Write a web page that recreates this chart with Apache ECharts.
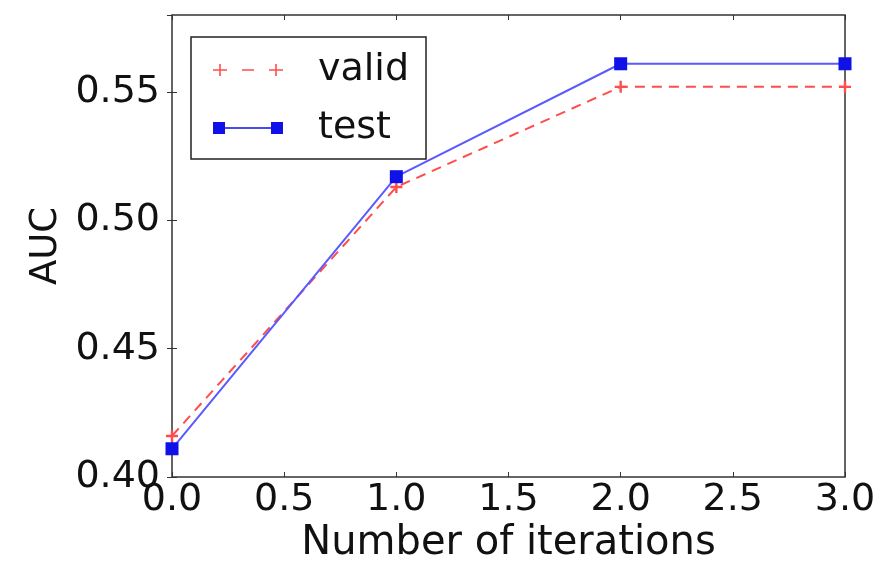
<!DOCTYPE html>
<html>
<head>
<meta charset="utf-8">
<script src="https://cdn.jsdelivr.net/npm/echarts@6/dist/echarts.min.js"></script>
<style>
  html, body { margin: 0; padding: 0; background: #fff; }
  #chart { width: 881px; height: 564px; }
</style>
</head>
<body>
<div id="chart"></div>
<script>
// iterations on the x axis
var iterations = [0, 1, 2, 3];
// AUC values
var validAuc = [0.416, 0.513, 0.552, 0.552];
var testAuc = [0.411, 0.517, 0.561, 0.561];

var font = 'DejaVu Sans';
var plus = 'path://M4,0h2v4h4v2h-4v4h-2v-4h-4v-2h4z';
// legend icons drawn like matplotlib: marker at both ends of a short line
var validIcon = 'path://M0,6.2h14v1.6h-14z M6.2,1h1.6v12h-1.6z M29,6.2h12v1.6h-12z M56,6.2h14v1.6h-14z M62.2,1h1.6v12h-1.6z';
var testIcon = 'path://M0,1h12v12h-12z M12,6.3h46v1.4h-46z M58,1h12v12h-12z';

function pairs(ys) {
  return iterations.map(function (x, i) { return [x, ys[i]]; });
}

var myChart = echarts.init(document.getElementById('chart'));
var option = {
  animation: false,
  grid: {
    left: 172, right: 36, top: 15, bottom: 87,
    outerBoundsMode: 'none',
    show: true, borderColor: '#333', borderWidth: 1.5
  },
  legend: {
    left: 191, top: 37,
    orient: 'vertical',
    padding: [14, 17, 12, 22],
    itemGap: 20,
    itemWidth: 70, itemHeight: 14,
    borderColor: '#222', borderWidth: 1.5,
    backgroundColor: '#fff',
    textStyle: { fontFamily: font, fontSize: 38, color: '#111', padding: [0, 0, 0, 30] },
    data: [
      { name: 'valid', icon: validIcon },
      { name: 'test', icon: testIcon }
    ]
  },
  xAxis: [{
    type: 'value', min: 0, max: 3, interval: 0.5,
    name: 'Number of iterations', nameLocation: 'middle', nameGap: 45,
    nameTextStyle: { fontFamily: font, fontSize: 40, color: '#111' },
    axisLine: { show: false },
    axisTick: { inside: true, length: 5, lineStyle: { color: '#333' } },
    axisLabel: {
      fontFamily: font, fontSize: 38, color: '#111', margin: 4,
      formatter: function (v) { return v.toFixed(1); }
    },
    splitLine: { show: false }
  }, {
    type: 'value', position: 'top', min: 0, max: 3, interval: 0.5,
    axisLine: { show: false },
    axisTick: { inside: true, length: 5, lineStyle: { color: '#333' } },
    axisLabel: { show: false },
    splitLine: { show: false }
  }],
  yAxis: [{
    type: 'value', min: 0.40, max: 0.58, interval: 0.05,
    name: 'AUC', nameLocation: 'middle', nameGap: 104, nameRotate: 90,
    nameTextStyle: { fontFamily: font, fontSize: 37, color: '#111' },
    axisLine: { show: false },
    axisTick: { inside: true, length: 5, lineStyle: { color: '#333' } },
    axisLabel: {
      fontFamily: font, fontSize: 38, color: '#111', margin: 12,
      showMaxLabel: false,
      formatter: function (v) { return v.toFixed(2); }
    },
    splitLine: { show: false }
  }, {
    type: 'value', position: 'right', min: 0.40, max: 0.58, interval: 0.05,
    axisLine: { show: false },
    axisTick: { inside: true, length: 5, lineStyle: { color: '#333' } },
    axisLabel: { show: false },
    splitLine: { show: false }
  }],
  series: [{
    name: 'valid', type: 'line',
    data: pairs(validAuc),
    symbol: plus, symbolSize: 12,
    itemStyle: { color: '#ff4d4d' },
    lineStyle: { color: '#ff4d4d', width: 2, type: [10, 7] },
    z: 2
  }, {
    name: 'test', type: 'line',
    data: pairs(testAuc),
    symbol: 'rect', symbolSize: 13,
    itemStyle: { color: '#1010e8' },
    lineStyle: { color: '#5a5aff', width: 2 },
    z: 3
  }]
};
myChart.setOption(option);
</script>
</body>
</html>
